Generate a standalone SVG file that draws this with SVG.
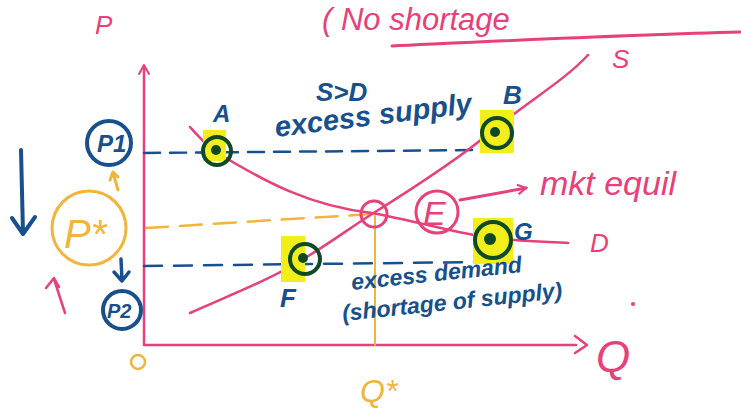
<svg xmlns="http://www.w3.org/2000/svg" width="741" height="413" viewBox="0 0 741 413">
  <defs>
    <style>
      .pink { stroke: #e8407a; fill: none; stroke-linecap: round; stroke-linejoin: round; }
      .blue { stroke: #17508c; fill: none; stroke-linecap: round; stroke-linejoin: round; }
      .orange { stroke: #f2b43a; fill: none; stroke-linecap: round; stroke-linejoin: round; }
      .hl { fill: #f2ee1c; }
      .pt { stroke: #0f4a26; stroke-width: 4; fill: none; }
      .dot { fill: #0f4a26; }
      .t { font-family: "Liberation Sans", "DejaVu Sans", sans-serif; font-style: italic; }
      .tp { fill: #e8407a; }
      .tb { fill: #17508c; font-weight: bold; }
      .to { fill: #f2b43a; }
    </style>
    <marker id="headPink" viewBox="0 0 10 10" refX="8" refY="5" markerWidth="12" markerHeight="12" orient="auto" markerUnits="userSpaceOnUse">
      <path d="M1,1 L8,5 L1,9" fill="none" stroke="#e8407a" stroke-width="1.8"/>
    </marker>
  </defs>

  <rect width="741" height="413" fill="#ffffff"/>

  <!-- heading note along the top edge -->
  <text class="t tp" x="322" y="30" font-size="31">( No shortage</text>
  <path class="pink" stroke-width="3" d="M392,46 C500,41 620,35 741,32"/>

  <!-- axes -->
  <g id="axes">
    <path class="pink" stroke-width="2.5" d="M144,66 L144,345 L576,345"/>
    <path class="pink" stroke-width="2" d="M139,74 L144,65 L149,74"/>
    <path class="pink" stroke-width="2.5" d="M575,336 L587,345 L575,353"/>
    <text class="t tp" x="95" y="34" font-size="26">P</text>
    <text class="t tp" x="596" y="372" font-size="44">Q</text>
    <circle class="orange" stroke-width="2.5" cx="138" cy="362" r="7"/>
    <text class="t to" x="360" y="402" font-size="32">Q*</text>
  </g>

  <!-- price reference lines -->
  <g id="connectors">
    <path class="blue" stroke-width="2.5" stroke-dasharray="16,10" d="M144,153 L480,150"/>
    <path class="blue" stroke-width="2.5" stroke-dasharray="18,12" d="M144,266 L478,262"/>
    <path class="orange" stroke-width="2.5" stroke-dasharray="22,12" d="M146,228 L372,214"/>
    <path class="orange" stroke-width="2" d="M375,216 L375,345"/>
  </g>

  <!-- supply and demand curves -->
  <g id="curves">
    <path id="supply" class="pink" stroke-width="2.5" d="M190,313 C230,295 270,280 305,258 C330,243 350,228 372,214 C420,184 460,158 492,131 C530,100 565,80 588,55"/>
    <path id="demand" class="pink" stroke-width="2.5" d="M190,127 C200,138 208,147 216,152 C265,182 310,206 372,213 C420,222 460,234 492,238 C520,241 545,242 568,243"/>
    <text class="t tp" x="612" y="68" font-size="26">S</text>
    <text class="t tp" x="590" y="252" font-size="26">D</text>
  </g>

  <!-- equilibrium -->
  <g id="E">
    <circle class="pink" stroke-width="3" cx="374" cy="214" r="13"/>
    <circle class="pink" stroke-width="3" cx="437" cy="212" r="21"/>
    <text class="t tp" x="423" y="225" font-size="34">E</text>
    <path class="pink" stroke-width="3" marker-end="url(#headPink)" d="M460,200 L526,188"/>
    <text class="t tp" x="540" y="195" font-size="34">mkt equil</text>
  </g>

  <!-- point A -->
  <g id="A">
    <rect class="hl" x="203" y="130" width="23" height="31"/>
    <circle class="pt" cx="217" cy="151" r="14"/>
    <circle class="dot" cx="216" cy="150" r="5"/>
    <text class="t tb" x="213" y="122" font-size="24">A</text>
  </g>

  <!-- point B -->
  <g id="B">
    <rect class="hl" x="480" y="110" width="34" height="43"/>
    <circle class="pt" cx="497" cy="133" r="15"/>
    <circle class="dot" cx="495" cy="132" r="5"/>
    <text class="t tb" x="503" y="104" font-size="26">B</text>
  </g>

  <!-- point F -->
  <g id="F">
    <rect class="hl" x="281" y="236" width="24" height="46"/>
    <circle class="pt" cx="305" cy="259" r="15"/>
    <circle class="dot" cx="303" cy="258" r="5"/>
    <text class="t tb" x="280" y="307" font-size="26">F</text>
  </g>

  <!-- point G -->
  <g id="G">
    <rect class="hl" x="473" y="218" width="40" height="46"/>
    <circle class="pt" cx="493" cy="240" r="18"/>
    <circle class="dot" cx="490" cy="239" r="6"/>
    <text class="t tb" x="514" y="240" font-size="24">G</text>
  </g>

  <!-- price labels on the vertical axis -->
  <g id="P1">
    <circle class="blue" stroke-width="4" cx="109" cy="143" r="22"/>
    <text class="t tb" x="97" y="152" font-size="24">P1</text>
  </g>
  <g id="Pstar">
    <circle class="orange" stroke-width="3" cx="89" cy="228" r="37"/>
    <text class="t to" x="64" y="248" font-size="40">P*</text>
  </g>
  <g id="P2">
    <circle class="blue" stroke-width="4" cx="122" cy="310" r="19"/>
    <text class="t tb" x="107" y="318" font-size="20">P2</text>
  </g>

  <!-- movement arrows -->
  <g id="arrows">
    <path class="blue" stroke-width="4" d="M21,150 L23,233 M12,218 L23,234 L35,217"/>
    <path class="blue" stroke-width="3.5" d="M121,259 L122,280 M114,272 L122,281 L129,272"/>
    <path class="orange" stroke-width="3" d="M118,190 L113,173 M110,180 L113,172 L118,177"/>
    <path class="pink" stroke-width="2.5" d="M65,313 L54,279 M46,288 L54,278 L59,287"/>
  </g>

  <!-- annotations -->
  <g id="notes">
    <text class="t tb" x="316" y="101" font-size="26">S&gt;D</text>
    <text class="t tb" x="276" y="137" font-size="29" transform="rotate(-7 276 137)">excess supply</text>
    <text class="t tb" x="352" y="290" font-size="23" transform="rotate(-6 352 290)">excess demand</text>
    <text class="t tb" x="343" y="321" font-size="23" transform="rotate(-6 343 321)">(shortage of supply)</text>
    <circle cx="633" cy="304" r="2" fill="#e8407a"/>
  </g>
</svg>
